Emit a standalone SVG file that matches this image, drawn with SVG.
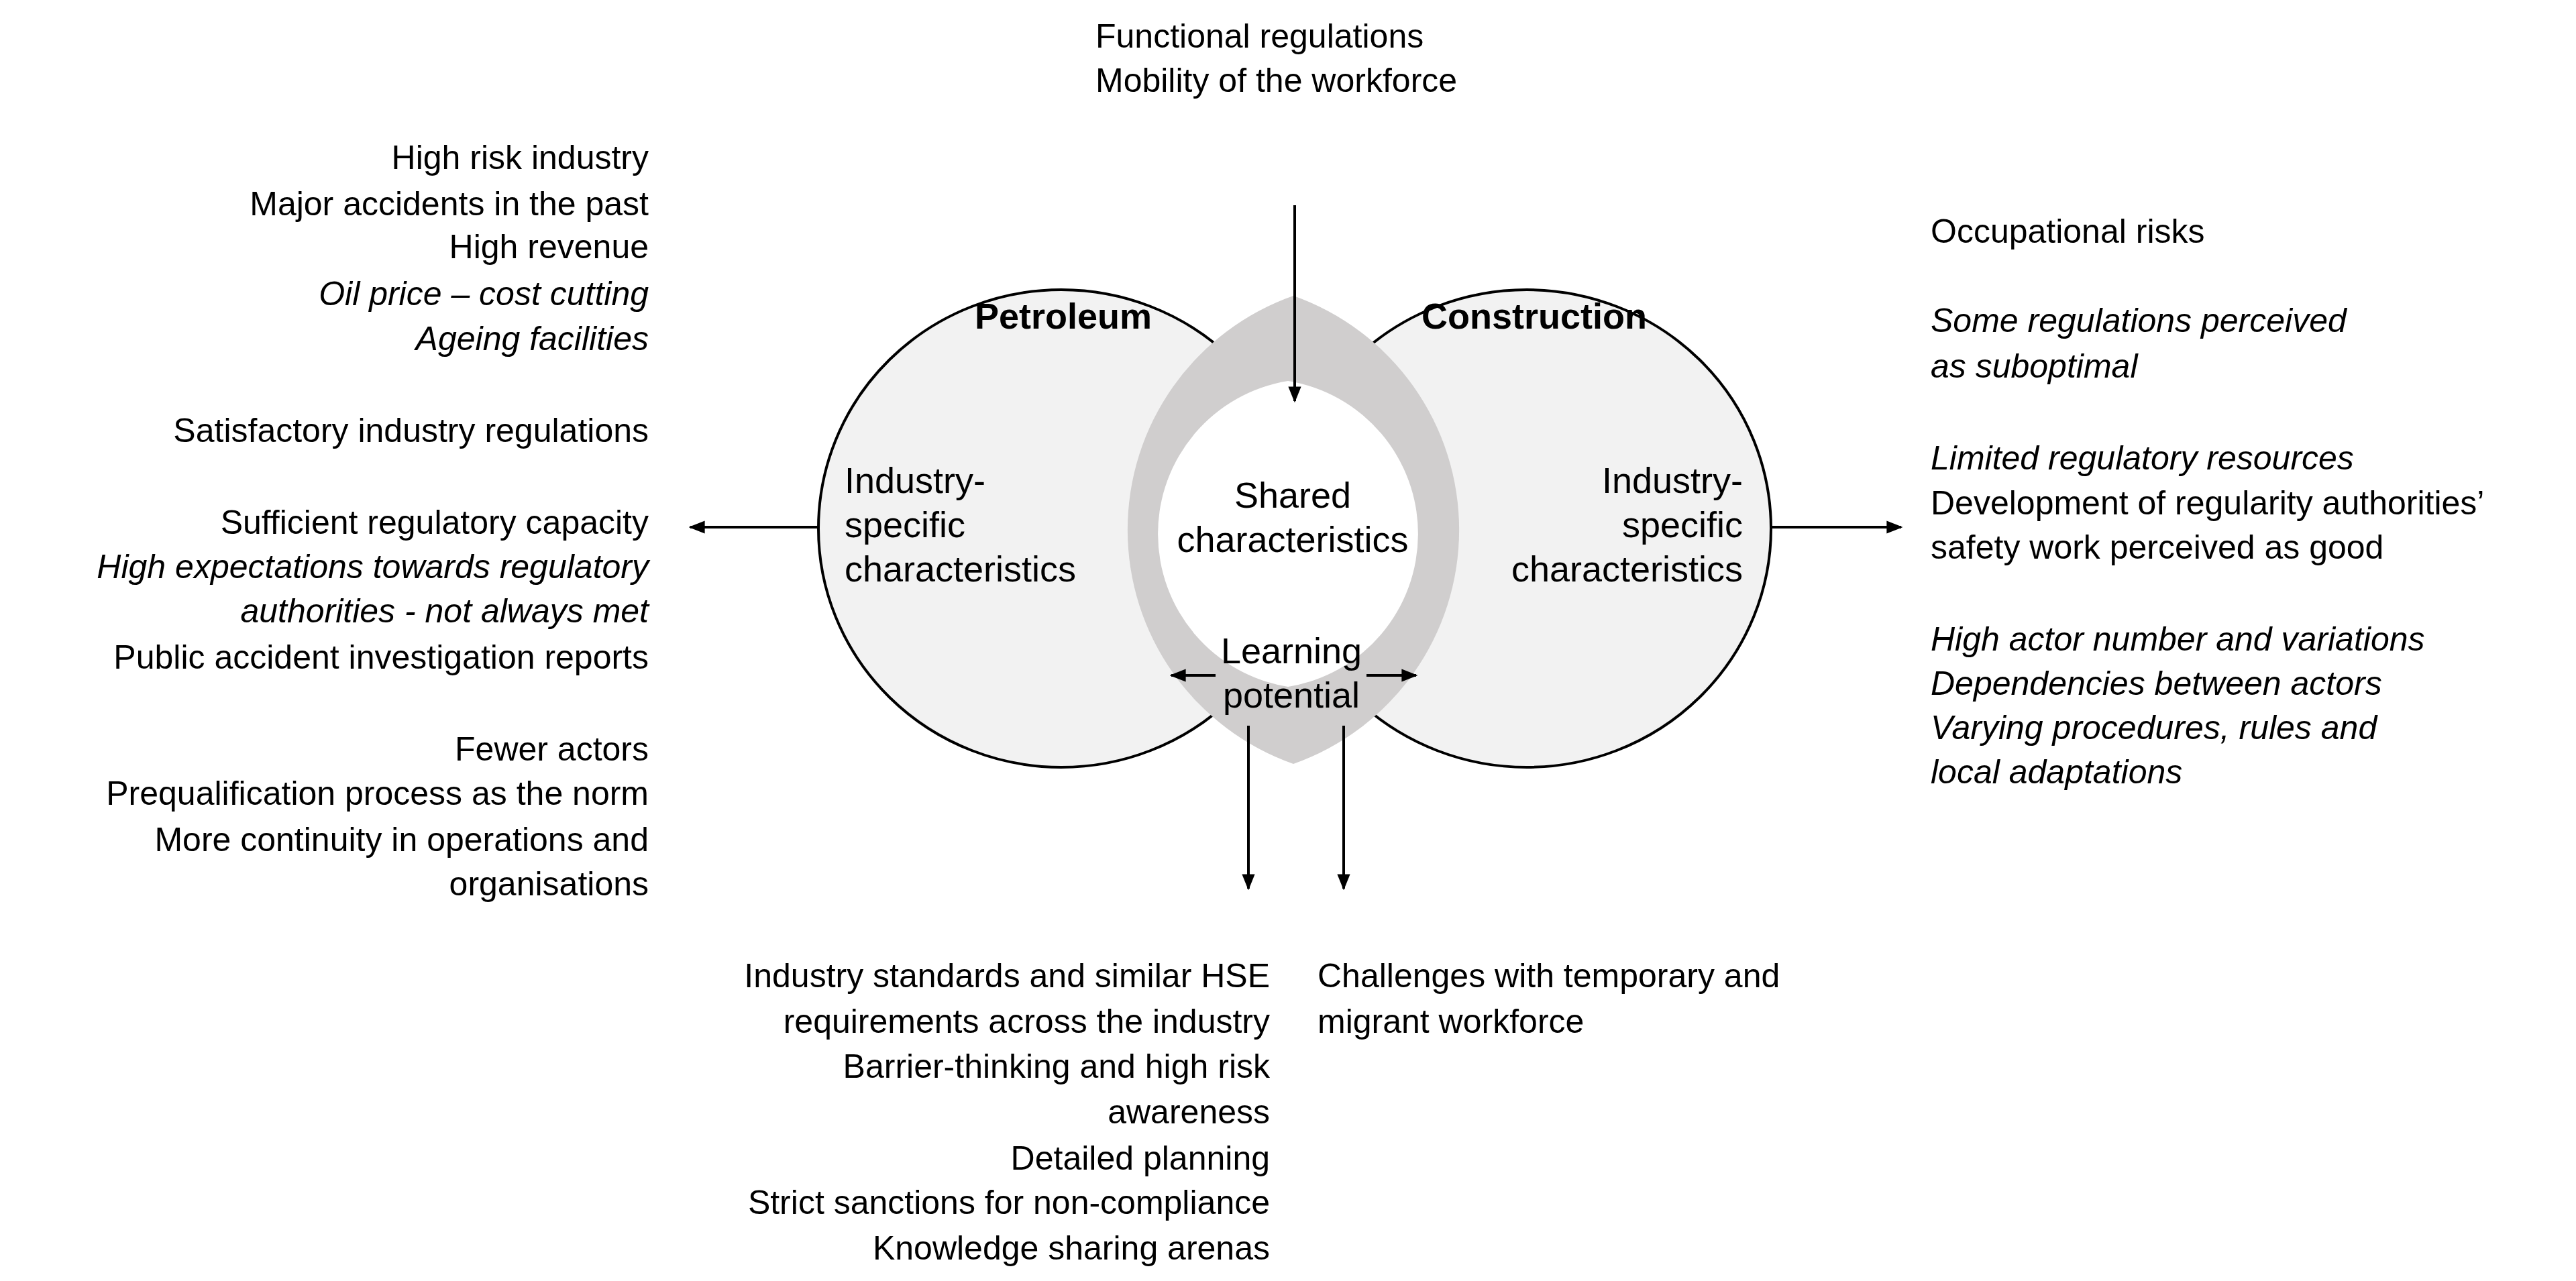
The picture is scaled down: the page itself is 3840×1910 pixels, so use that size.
<svg xmlns="http://www.w3.org/2000/svg" width="3840" height="1910" viewBox="0 0 3840 1910">
<style>
text{font-family:"Liberation Sans",Arial,sans-serif;font-size:50px;fill:#000}
.i{font-style:italic}
.r{text-anchor:end}
.m{text-anchor:middle}
.b{font-weight:bold;font-size:54px}
.c{font-size:54px}
.ln{stroke:#000;stroke-width:4;fill:none;marker-end:url(#ah)}
</style>
<defs>
<marker id="ah" viewBox="0 0 10 10" refX="9" refY="5" markerWidth="6" markerHeight="6" orient="auto" markerUnits="strokeWidth"><path d="M0,1 L10,5 L0,9 Z" fill="#000"/></marker>
</defs>
<rect width="3840" height="1910" fill="#fff"/>
<g id="petroleum"><ellipse cx="1582" cy="788" rx="362" ry="356" fill="#f2f2f2" stroke="#000" stroke-width="4"/></g>
<g id="construction"><ellipse cx="2276" cy="788" rx="364" ry="356" fill="#f2f2f2" stroke="#000" stroke-width="4"/></g>
<g id="lens">
<path d="M1928,441 A370,370 0 0 0 1928,1139 A370,370 0 0 0 1928,441 Z" fill="#d0cece"/>
<path d="M1920,568 A231,231 0 0 0 1920,1024 A231,231 0 0 0 1920,568 Z" fill="#fff"/>
</g>
<g id="connectors">
<line class="ln" x1="1930" y1="306" x2="1930" y2="598"/>
<line class="ln" x1="1220" y1="786" x2="1029" y2="786"/>
<line class="ln" x1="2640" y1="786" x2="2834" y2="786"/>
<line class="ln" x1="1861" y1="1082" x2="1861" y2="1325"/>
<line class="ln" x1="2003" y1="1082" x2="2003" y2="1325"/>
<line class="ln" x1="1812" y1="1007" x2="1746" y2="1007"/>
<line class="ln" x1="2037" y1="1007" x2="2111" y2="1007"/>
</g>
<g id="labels-venn">
<text class="b m" x="1585" y="490">Petroleum</text>
<text class="b m" x="2287" y="490">Construction</text>
<text class="c" x="1259" y="735">Industry-</text>
<text class="c" x="1259" y="801">specific</text>
<text class="c" x="1259" y="867">characteristics</text>
<text class="c r" x="2598" y="735">Industry-</text>
<text class="c r" x="2598" y="801">specific</text>
<text class="c r" x="2598" y="867">characteristics</text>
<text class="c m" x="1927" y="757">Shared</text>
<text class="c m" x="1927" y="823">characteristics</text>
<text class="c m" x="1925" y="989">Learning</text>
<text class="c m" x="1925" y="1055">potential</text>
</g>
<g id="top-text">
<text x="1633" y="71">Functional regulations</text>
<text x="1633" y="137">Mobility of the workforce</text>
</g>
<g id="left-text">
<text class="r" x="967" y="252">High risk industry</text>
<text class="r" x="967" y="321">Major accidents in the past</text>
<text class="r" x="967" y="385">High revenue</text>
<text class="r i" x="967" y="455">Oil price – cost cutting</text>
<text class="r i" x="967" y="522">Ageing facilities</text>
<text class="r" x="967" y="659">Satisfactory industry regulations</text>
<text class="r" x="967" y="796">Sufficient regulatory capacity</text>
<text class="r i" x="967" y="862">High expectations towards regulatory</text>
<text class="r i" x="967" y="928">authorities - not always met</text>
<text class="r" x="967" y="997">Public accident investigation reports</text>
<text class="r" x="967" y="1134">Fewer actors</text>
<text class="r" x="967" y="1200">Prequalification process as the norm</text>
<text class="r" x="967" y="1269">More continuity in operations and</text>
<text class="r" x="967" y="1335">organisations</text>
</g>
<g id="right-text">
<text x="2878" y="362">Occupational risks</text>
<text class="i" x="2878" y="495">Some regulations perceived</text>
<text class="i" x="2878" y="563">as suboptimal</text>
<text class="i" x="2878" y="700">Limited regulatory resources</text>
<text x="2878" y="767">Development of regularity authorities’</text>
<text x="2878" y="833">safety work perceived as good</text>
<text class="i" x="2878" y="970">High actor number and variations</text>
<text class="i" x="2878" y="1036">Dependencies between actors</text>
<text class="i" x="2878" y="1102">Varying procedures, rules and</text>
<text class="i" x="2878" y="1168">local adaptations</text>
</g>
<g id="bottom-left-text">
<text class="r" x="1893" y="1472">Industry standards and similar HSE</text>
<text class="r" x="1893" y="1540">requirements across the industry</text>
<text class="r" x="1893" y="1607">Barrier-thinking and high risk</text>
<text class="r" x="1893" y="1675">awareness</text>
<text class="r" x="1893" y="1744">Detailed planning</text>
<text class="r" x="1893" y="1810">Strict sanctions for non-compliance</text>
<text class="r" x="1893" y="1878">Knowledge sharing arenas</text>
</g>
<g id="bottom-right-text">
<text x="1964" y="1472">Challenges with temporary and</text>
<text x="1964" y="1540">migrant workforce</text>
</g>
</svg>
